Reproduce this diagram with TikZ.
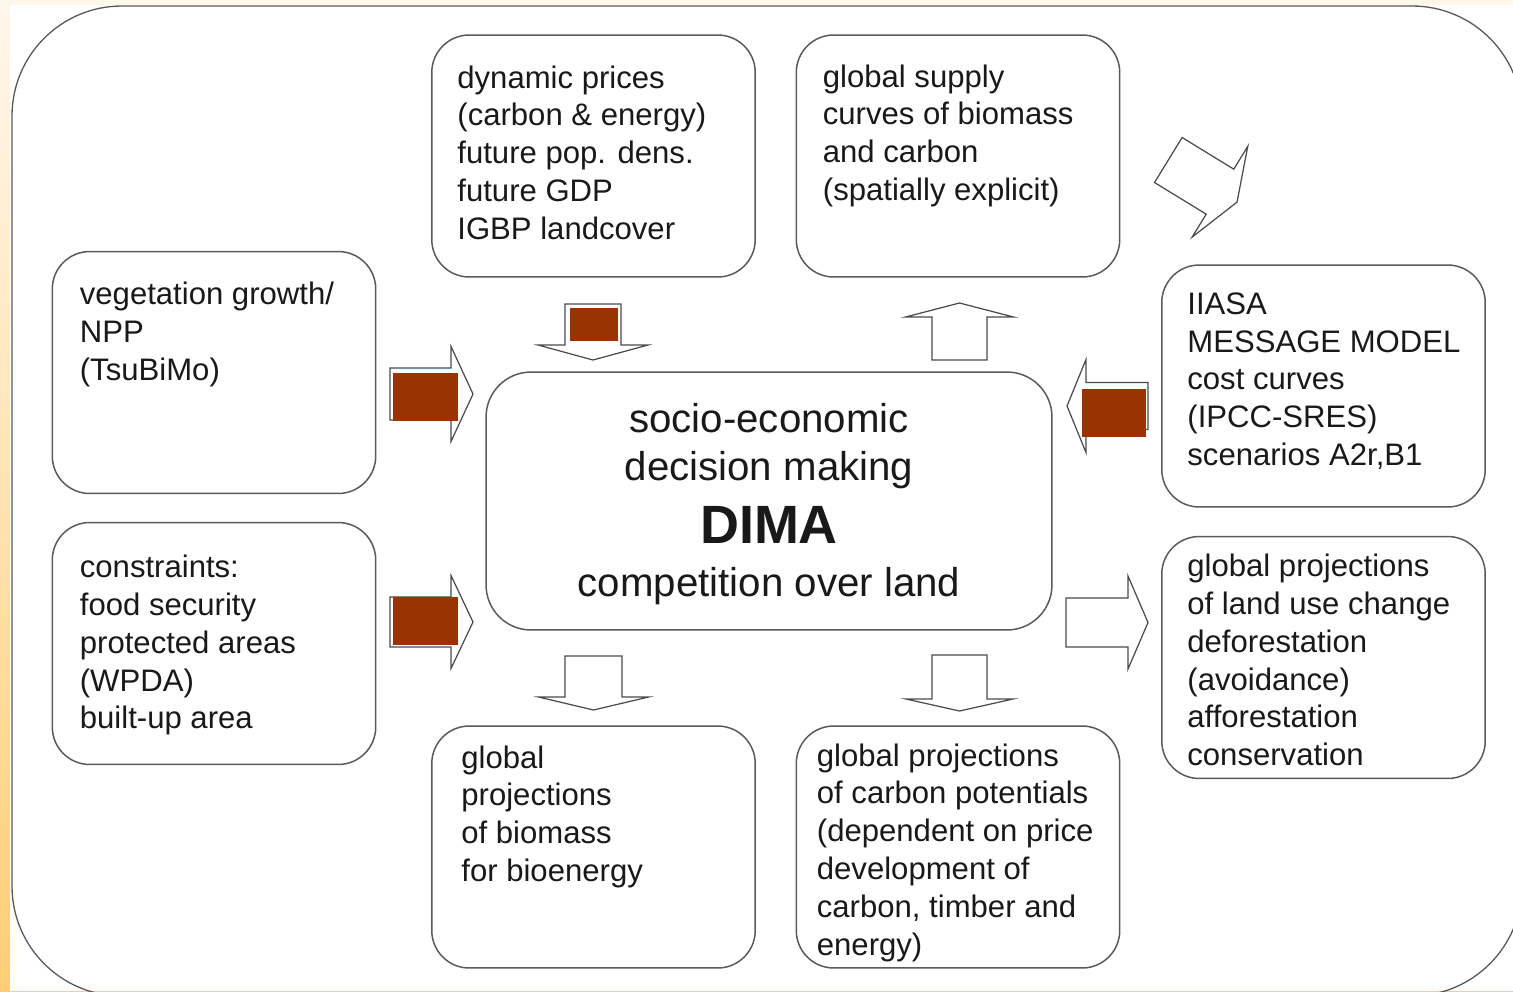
\documentclass[tikz,border=0pt]{standalone}
\usepackage{fontspec}
\setmainfont{Liberation Sans}
\usetikzlibrary{calc}
\definecolor{dimabrown}{RGB}{153,51,0}
\definecolor{framegray}{RGB}{90,90,90}
\definecolor{arrowgray}{RGB}{75,75,75}
\definecolor{stripTop}{RGB}{255,247,236}
\definecolor{stripBottom}{RGB}{255,206,118}
\tikzstyle{infobox}=[draw=framegray, line width=0.85pt, rounded corners=0.75cm, minimum width=6.47cm, minimum height=4.84cm, inner sep=0pt]
\tikzstyle{infotext}=[anchor=north west, align=left, inner sep=0pt, font=\fontsize{17.7}{21.5}\selectfont, text=black!90]
\tikzstyle{blockarrow}=[draw=arrowgray, fill=white, line width=0.7pt]
\tikzstyle{brownpatch}=[fill=dimabrown]
\newcommand{\drawblockarrow}[7]{
% back centre, angle, body length, half body, half head, head length
\begin{scope}[shift={(#1,#2)}, rotate=#3]
\pgfmathsetmacro{\tipx}{#4+#7}
\draw[blockarrow] (0,-#5) -- (#4,-#5) -- (#4,-#6) -- (\tipx,0) -- (#4,#6) -- (#4,#5) -- (0,#5) -- cycle;
\end{scope}
}

\begin{document}
\begin{tikzpicture}[x=0.02cm, y=-0.02cm]
  \useasboundingbox (0,0) rectangle (1513,991);
  % page background and frame
  \shade[top color=stripTop, bottom color=stripBottom] (0,0) rectangle (1513,991);
  \fill[white] (10,5) rectangle (1513,991);
  \draw[framegray, line width=0.75pt, rounded corners=2.2cm] (12,6) rectangle (1522,996);

  % boxes
  \node[infobox] (prices) at (593.5,156) {};
  \node[infobox] (supply) at (958,156) {};
  \node[infobox] (veg) at (214,372.5) {};
  \node[infobox] (constr) at (214,643.5) {};
  \node[infobox] (iiasa) at (1323.5,386) {};
  \node[infobox] (landuse) at (1323.5,657.5) {};
  \node[infobox] (biomass) at (593.5,847) {};
  \node[infobox] (carbon) at (958,847) {};
  \node[infobox, rounded corners=0.9cm, minimum width=11.32cm, minimum height=5.16cm] (dima) at (769,501) {};
  \node[align=center, text=black!90, font=\fontsize{22.9}{27.2}\selectfont] (dimatxt) at ($(dima.center)+(0,3)$)
        {socio-economic\\decision making\\[0.3cm]{\fontsize{30.7}{30.7}\selectfont\bfseries DIMA}\\[0.1cm]competition over land};

  % box texts
  \node[infotext] (pricestxt) at ($(prices.north west)+(26,31)$) {dynamic prices\\(carbon \& energy)\\future pop. dens.\\future GDP\\IGBP landcover};
  \node[infotext] (supplytxt) at ($(supply.north west)+(27,30)$) {global supply\\curves of biomass\\and carbon\\(spatially explicit)};
  \node[infotext] (vegtxt) at ($(veg.north west)+(28,31)$) {vegetation growth/\\NPP\\(TsuBiMo)};
  \node[infotext] (constrtxt) at ($(constr.north west)+(28,33)$) {constraints:\\food security\\protected areas\\(WPDA)\\built-up area};
  \node[infotext] (iiasatxt) at ($(iiasa.north west)+(26,28)$) {IIASA\\MESSAGE MODEL\\cost curves\\(IPCC-SRES)\\scenarios A2r,B1};
  \node[infotext] (landusetxt) at ($(landuse.north west)+(26,18)$) {global projections\\of land use change\\deforestation\\(avoidance)\\afforestation\\conservation};
  \node[infotext] (biomasstxt) at ($(biomass.north west)+(30,20)$) {global\\projections\\of biomass\\for bioenergy};
  \node[infotext] (carbontxt) at ($(carbon.north west)+(21,18)$) {global projections\\of carbon potentials\\(dependent on price\\development of\\carbon, timber and\\energy)};

  % block arrows
  \drawblockarrow{390}{394}{0}{61}{26}{47.5}{22}
  \fill[brownpatch] (393,373) rectangle (458,421);
  \drawblockarrow{390}{622}{0}{61}{25}{46.5}{22}
  \fill[brownpatch] (393,597) rectangle (458,645);
  \drawblockarrow{593}{304}{-90}{41}{28}{55}{15}
  \fill[brownpatch] (570,308) rectangle (618,341);
  \drawblockarrow{959.5}{360}{90}{43}{27.5}{54}{14}
  \drawblockarrow{1148}{406}{180}{62}{23.5}{46.5}{19}
  \fill[brownpatch] (1082,389) rectangle (1146,437);
  \drawblockarrow{1168.3}{160}{-31.5}{60.6}{26.4}{53.2}{20}
  \drawblockarrow{593.5}{656}{-90}{41}{28.5}{55}{13}
  \drawblockarrow{959.5}{655}{-90}{44}{27.5}{53.5}{12}
  \drawblockarrow{1066}{622.5}{0}{62}{24.5}{46.5}{20}
\end{tikzpicture}
\end{document}
